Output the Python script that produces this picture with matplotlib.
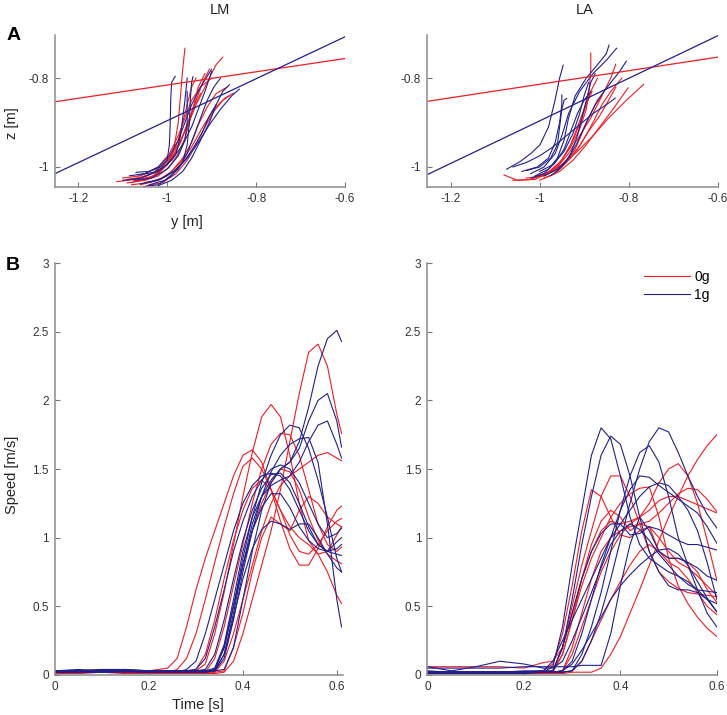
import matplotlib
matplotlib.use('Agg')
import matplotlib.pyplot as plt

plt.rcParams['font.family'] = ['Liberation Sans', 'DejaVu Sans']
plt.rcParams['axes.unicode_minus'] = False

RED = '#ee1c24'
BLUE = '#20208c'

# ---- A: hand paths, y/z in metres -------------------------------------------
# fitted lines (y at both ends, z at both ends)
fit_y = [-1.25, -0.6]
lm_fit_red_z = [-0.853, -0.756]
lm_fit_blue_z = [-1.014, -0.707]
la_fit_red_z = [-0.852, -0.753]
la_fit_blue_z = [-1.016, -0.705]

lm_red_y = [
    [-1.09, -1.05, -1.02, -1.0, -0.985, -0.975, -0.97, -0.965, -0.96],
    [-1.113, -1.07, -1.03, -1.0, -0.975, -0.955, -0.935, -0.91, -0.89, -0.875],
    [-1.08, -1.04, -1.0, -0.97, -0.945, -0.92, -0.895, -0.87, -0.851],
    [-1.07, -1.03, -1.0, -0.98, -0.965, -0.95, -0.935, -0.92, -0.905],
    [-1.1, -1.06, -1.02, -0.995, -0.975, -0.96, -0.945, -0.925, -0.9],
    [-1.06, -1.02, -0.99, -0.965, -0.945, -0.93, -0.91, -0.89, -0.865],
    [-1.05, -1.02, -0.995, -0.975, -0.96, -0.95, -0.94, -0.93, -0.915],
    [-1.08, -1.04, -1.01, -0.99, -0.97, -0.955, -0.94, -0.925],
    [-1.045, -1.01, -0.98, -0.955, -0.935, -0.915, -0.895, -0.875, -0.86],
    [-1.09, -1.05, -1.015, -0.99, -0.975, -0.965, -0.955, -0.945, -0.935],
]
lm_red_z = [
    [-1.036, -1.03, -1.015, -0.995, -0.96, -0.9, -0.84, -0.78, -0.733],
    [-1.033, -1.028, -1.012, -0.985, -0.95, -0.91, -0.86, -0.81, -0.77, -0.753],
    [-1.04, -1.035, -1.02, -0.99, -0.955, -0.91, -0.87, -0.845, -0.834],
    [-1.03, -1.02, -0.995, -0.965, -0.93, -0.89, -0.85, -0.81, -0.78],
    [-1.025, -1.02, -1.0, -0.97, -0.93, -0.89, -0.85, -0.82, -0.8],
    [-1.04, -1.03, -1.01, -0.98, -0.945, -0.905, -0.865, -0.835, -0.82],
    [-1.03, -1.02, -1.0, -0.97, -0.935, -0.9, -0.86, -0.82, -0.79],
    [-1.035, -1.025, -1.005, -0.98, -0.945, -0.905, -0.865, -0.835],
    [-1.042, -1.035, -1.015, -0.985, -0.95, -0.91, -0.875, -0.85, -0.84],
    [-1.028, -1.022, -1.005, -0.975, -0.94, -0.9, -0.86, -0.82, -0.8],
]
lm_blue_y = [
    [-1.07, -1.04, -1.015, -1.0, -0.995, -0.993, -0.992, -0.99, -0.982],
    [-1.053, -1.02, -0.99, -0.965, -0.955, -0.95, -0.948, -0.945, -0.942],
    [-1.085, -1.05, -1.02, -0.995, -0.975, -0.96, -0.945, -0.925, -0.9],
    [-1.06, -1.02, -0.985, -0.955, -0.93, -0.905, -0.88, -0.855, -0.838],
    [-1.1, -1.06, -1.02, -0.99, -0.965, -0.945, -0.93, -0.915, -0.905, -0.9],
    [-1.04, -1.005, -0.975, -0.955, -0.94, -0.925, -0.91, -0.895, -0.88],
    [-1.075, -1.035, -1.0, -0.975, -0.96, -0.955, -0.955, -0.955],
    [-1.02, -0.99, -0.965, -0.945, -0.925, -0.905, -0.89, -0.875, -0.86],
    [-1.065, -1.03, -1.0, -0.98, -0.97, -0.965, -0.96, -0.955],
    [-1.05, -1.015, -0.985, -0.96, -0.94, -0.92, -0.905, -0.89],
]
lm_blue_z = [
    [-1.012, -1.01, -1.0, -0.985, -0.95, -0.9, -0.85, -0.81, -0.796],
    [-1.044, -1.04, -1.02, -0.99, -0.95, -0.9, -0.85, -0.81, -0.797],
    [-1.02, -1.015, -1.0, -0.975, -0.94, -0.9, -0.86, -0.82, -0.78],
    [-1.038, -1.03, -1.01, -0.98, -0.945, -0.905, -0.87, -0.84, -0.825],
    [-1.03, -1.025, -1.01, -0.985, -0.95, -0.91, -0.87, -0.83, -0.8, -0.785],
    [-1.04, -1.03, -1.005, -0.97, -0.93, -0.89, -0.85, -0.82, -0.8],
    [-1.03, -1.025, -1.005, -0.975, -0.94, -0.9, -0.86, -0.83],
    [-1.042, -1.03, -1.01, -0.98, -0.94, -0.9, -0.86, -0.83, -0.815],
    [-1.018, -1.012, -0.995, -0.97, -0.93, -0.89, -0.85, -0.8],
    [-1.035, -1.028, -1.01, -0.985, -0.955, -0.92, -0.885, -0.86],
]

la_red_y = [
    [-1.06, -1.02, -0.985, -0.955, -0.93, -0.91, -0.895, -0.888, -0.885, -0.885],
    [-1.03, -0.99, -0.96, -0.935, -0.91, -0.885, -0.86, -0.84, -0.829],
    [-1.0, -0.97, -0.94, -0.915, -0.89, -0.865, -0.845, -0.829],
    [-0.99, -0.955, -0.925, -0.895, -0.865, -0.835, -0.801],
    [-0.985, -0.95, -0.915, -0.88, -0.845, -0.805, -0.766],
    [-1.01, -0.975, -0.95, -0.93, -0.915, -0.9, -0.885, -0.87],
    [-1.0, -0.965, -0.94, -0.92, -0.905, -0.89, -0.875, -0.86],
    [-1.08, -1.05, -1.01, -0.975, -0.95, -0.93, -0.91, -0.895, -0.882],
    [-0.99, -0.96, -0.93, -0.905, -0.88, -0.86, -0.84, -0.815],
]
la_red_z = [
    [-1.03, -1.028, -1.015, -0.99, -0.955, -0.915, -0.87, -0.82, -0.78, -0.744],
    [-1.025, -1.02, -1.0, -0.97, -0.93, -0.89, -0.84, -0.8, -0.769],
    [-1.02, -1.01, -0.99, -0.96, -0.92, -0.885, -0.85, -0.821],
    [-1.025, -1.01, -0.985, -0.95, -0.91, -0.87, -0.822],
    [-1.015, -0.995, -0.965, -0.93, -0.89, -0.85, -0.814],
    [-1.022, -1.01, -0.985, -0.95, -0.91, -0.87, -0.83, -0.8],
    [-1.03, -1.015, -0.99, -0.96, -0.925, -0.89, -0.86, -0.84],
    [-1.018, -1.03, -1.028, -1.01, -0.985, -0.95, -0.905, -0.86, -0.83],
    [-1.02, -1.005, -0.98, -0.945, -0.9, -0.86, -0.83, -0.8],
]
la_blue_y = [
    [-1.074, -1.044, -1.02, -0.999, -0.98, -0.966, -0.955, -0.947],
    [-1.01, -0.98, -0.96, -0.945, -0.935, -0.92, -0.895, -0.87, -0.85, -0.844],
    [-1.02, -0.99, -0.965, -0.95, -0.935, -0.91, -0.88, -0.85, -0.827],
    [-1.03, -1.0, -0.975, -0.96, -0.955, -0.95, -0.945, -0.939],
    [-1.04, -1.005, -0.98, -0.965, -0.955, -0.95, -0.95],
    [-0.99, -0.96, -0.935, -0.915, -0.895, -0.87, -0.84, -0.82, -0.805],
    [-1.0, -0.97, -0.945, -0.925, -0.91, -0.9, -0.89],
    [-1.06, -1.03, -1.0, -0.97, -0.94, -0.91, -0.88, -0.85, -0.83],
    [-1.02, -0.99, -0.965, -0.945, -0.93, -0.915, -0.9, -0.885],
    [-0.975, -0.95, -0.93, -0.915, -0.905, -0.895, -0.885, -0.875],
]
la_blue_z = [
    [-1.005, -0.988, -0.97, -0.95, -0.91, -0.853, -0.8, -0.771],
    [-1.02, -1.005, -0.98, -0.94, -0.89, -0.84, -0.8, -0.77, -0.745, -0.726],
    [-1.015, -1.0, -0.97, -0.93, -0.88, -0.83, -0.79, -0.76, -0.733],
    [-1.008, -1.0, -0.98, -0.95, -0.91, -0.87, -0.85, -0.846],
    [-1.01, -1.0, -0.98, -0.945, -0.9, -0.86, -0.838],
    [-1.02, -1.005, -0.98, -0.945, -0.9, -0.85, -0.81, -0.785, -0.762],
    [-1.01, -0.995, -0.965, -0.925, -0.88, -0.84, -0.81],
    [-1.0, -0.99, -0.975, -0.955, -0.93, -0.905, -0.88, -0.86, -0.845],
    [-1.025, -1.015, -0.99, -0.96, -0.92, -0.88, -0.85, -0.83],
    [-1.02, -1.0, -0.97, -0.93, -0.89, -0.85, -0.81, -0.79],
]

# ---- B: hand speed, m/s ------------------------------------------------------
t_lm = [0, 0.05, 0.1, 0.15, 0.2, 0.24, 0.26, 0.28, 0.3, 0.32, 0.34, 0.36, 0.38,
        0.4, 0.42, 0.44, 0.46, 0.48, 0.5, 0.52, 0.54, 0.56, 0.58, 0.6, 0.61]
lm_red_speed = [
    [0.03, 0.03, 0.04, 0.03, 0.03, 0.05, 0.12, 0.35, 0.62, 0.85, 1.05, 1.25, 1.45,
     1.6, 1.64, 1.55, 1.35, 1.12, 0.92, 0.8, 0.8, 0.92, 1.08, 1.2, 1.23],
    [0.02, 0.02, 0.02, 0.03, 0.02, 0.02, 0.04, 0.12, 0.3, 0.55, 0.82, 1.08, 1.32,
     1.52, 1.58, 1.5, 1.35, 1.2, 1.08, 1.0, 0.95, 0.88, 0.75, 0.58, 0.52],
    [0.02, 0.02, 0.02, 0.02, 0.02, 0.02, 0.02, 0.02, 0.03, 0.08, 0.3, 0.6, 0.95,
     1.3, 1.62, 1.88, 1.97, 1.88, 1.6, 1.25, 0.98, 0.88, 0.9, 1.02, 1.08],
    [0.01, 0.01, 0.02, 0.01, 0.01, 0.01, 0.01, 0.01, 0.01, 0.01, 0.01, 0.02, 0.1,
     0.3, 0.55, 0.8, 1.05, 1.35, 1.7, 2.05, 2.35, 2.41, 2.25, 1.9, 1.76],
    [0.02, 0.02, 0.02, 0.02, 0.02, 0.02, 0.02, 0.02, 0.02, 0.02, 0.12, 0.35, 0.65,
     0.95, 1.25, 1.5, 1.68, 1.76, 1.75, 1.6, 1.35, 1.1, 0.95, 0.9, 0.93],
    [0.02, 0.02, 0.02, 0.02, 0.02, 0.02, 0.02, 0.02, 0.02, 0.02, 0.02, 0.1, 0.3,
     0.55, 0.8, 1.05, 1.25, 1.38, 1.45, 1.5, 1.55, 1.6, 1.62, 1.58, 1.56],
    [0.02, 0.02, 0.02, 0.02, 0.02, 0.02, 0.02, 0.02, 0.02, 0.02, 0.04, 0.2, 0.5,
     0.8, 1.05, 1.25, 1.4, 1.5, 1.48, 1.35, 1.15, 0.98, 0.88, 0.83, 0.81],
    [0.02, 0.02, 0.02, 0.02, 0.02, 0.02, 0.02, 0.02, 0.02, 0.02, 0.02, 0.03, 0.2,
     0.45, 0.75, 1.0, 1.15, 1.1, 1.05, 1.2, 1.3, 1.25, 1.15, 1.1, 1.08],
    [0.03, 0.03, 0.03, 0.03, 0.03, 0.03, 0.03, 0.03, 0.04, 0.15, 0.4, 0.7, 0.98,
     1.2, 1.36, 1.42, 1.35, 1.2, 1.02, 0.9, 0.88, 0.95, 1.05, 1.12, 1.14],
]
lm_blue_speed = [
    [0.03, 0.04, 0.03, 0.04, 0.03, 0.03, 0.03, 0.03, 0.03, 0.03, 0.03, 0.04, 0.2,
     0.55, 0.9, 1.2, 1.4, 1.5, 1.55, 1.7, 1.95, 2.25, 2.45, 2.51, 2.43],
    [0.02, 0.03, 0.02, 0.03, 0.02, 0.02, 0.02, 0.02, 0.02, 0.02, 0.03, 0.15, 0.45,
     0.8, 1.1, 1.3, 1.42, 1.5, 1.55, 1.65, 1.85, 2.0, 2.05, 1.85, 1.66],
    [0.03, 0.03, 0.04, 0.04, 0.03, 0.03, 0.03, 0.03, 0.03, 0.03, 0.05, 0.22, 0.55,
     0.9, 1.15, 1.3, 1.38, 1.42, 1.45, 1.55, 1.7, 1.82, 1.85, 1.68, 1.58],
    [0.02, 0.02, 0.03, 0.03, 0.02, 0.02, 0.02, 0.02, 0.02, 0.02, 0.04, 0.2, 0.5,
     0.85, 1.15, 1.4, 1.6, 1.75, 1.82, 1.8, 1.65, 1.42, 1.15, 0.85, 0.75],
    [0.03, 0.03, 0.03, 0.03, 0.03, 0.03, 0.03, 0.03, 0.03, 0.03, 0.03, 0.12, 0.4,
     0.75, 1.05, 1.3, 1.48, 1.6, 1.68, 1.72, 1.73, 1.55, 1.1, 0.55, 0.35],
    [0.02, 0.02, 0.02, 0.03, 0.02, 0.02, 0.02, 0.03, 0.04, 0.12, 0.35, 0.62, 0.9,
     1.12, 1.3, 1.42, 1.5, 1.53, 1.5, 1.4, 1.25, 1.1, 1.0, 1.03, 1.07],
    [0.03, 0.03, 0.03, 0.03, 0.03, 0.03, 0.03, 0.03, 0.03, 0.04, 0.15, 0.4, 0.7,
     0.98, 1.2, 1.36, 1.46, 1.47, 1.4, 1.25, 1.08, 0.95, 0.9, 0.97, 1.0],
    [0.02, 0.02, 0.02, 0.02, 0.02, 0.02, 0.02, 0.02, 0.02, 0.02, 0.04, 0.2, 0.5,
     0.8, 1.05, 1.22, 1.32, 1.32, 1.22, 1.08, 0.98, 0.92, 0.9, 0.88, 0.87],
    [0.03, 0.03, 0.03, 0.03, 0.03, 0.03, 0.03, 0.03, 0.03, 0.03, 0.03, 0.15, 0.42,
     0.7, 0.92, 1.06, 1.12, 1.1, 1.06, 1.1, 1.1, 1.0, 0.88, 0.78, 0.75],
    [0.02, 0.02, 0.03, 0.03, 0.02, 0.02, 0.02, 0.04, 0.1, 0.3, 0.55, 0.8, 1.05,
     1.25, 1.38, 1.45, 1.47, 1.45, 1.35, 1.2, 1.05, 0.95, 0.9, 0.92, 0.95],
]

t_la = [0, 0.05, 0.1, 0.15, 0.2, 0.24, 0.26, 0.28, 0.3, 0.32, 0.34, 0.36,
        0.38, 0.4, 0.42, 0.44, 0.46, 0.48, 0.5, 0.52, 0.54, 0.56, 0.58, 0.6]
la_red_speed = [
    [0.02, 0.02, 0.02, 0.02, 0.02, 0.03, 0.08, 0.3, 0.65, 1.05, 1.35, 1.3,
     1.15, 1.02, 1.0, 1.05, 1.08, 1.0, 0.9, 0.82, 0.78, 0.72, 0.65, 0.58],
    [0.02, 0.02, 0.02, 0.02, 0.02, 0.02, 0.03, 0.2, 0.5, 0.8, 1.05, 1.3,
     1.45, 1.45, 1.3, 1.1, 0.9, 0.75, 0.68, 0.63, 0.6, 0.59, 0.58, 0.57],
    [0.01, 0.01, 0.01, 0.01, 0.01, 0.02, 0.02, 0.03, 0.15, 0.35, 0.55, 0.75,
     0.9, 1.02, 1.1, 1.15, 1.25, 1.4, 1.5, 1.54, 1.45, 1.25, 0.98, 0.69],
    [0.01, 0.01, 0.01, 0.01, 0.01, 0.01, 0.01, 0.01, 0.02, 0.02, 0.02, 0.05,
     0.15, 0.28, 0.45, 0.62, 0.8, 0.98, 1.15, 1.3, 1.45, 1.57, 1.67, 1.75],
    [0.02, 0.02, 0.02, 0.02, 0.02, 0.02, 0.02, 0.03, 0.2, 0.45, 0.7, 0.9,
     1.0, 1.05, 1.08, 1.1, 1.12, 1.18, 1.25, 1.32, 1.36, 1.35, 1.28, 1.19],
    [0.02, 0.02, 0.02, 0.02, 0.02, 0.02, 0.03, 0.15, 0.4, 0.65, 0.85, 1.0,
     1.15, 1.25, 1.32, 1.36, 1.37, 1.15, 0.85, 0.65, 0.52, 0.42, 0.34, 0.28],
    [0.02, 0.02, 0.02, 0.02, 0.02, 0.02, 0.02, 0.15, 0.4, 0.7, 0.95, 1.12,
     1.2, 1.15, 1.05, 1.1, 1.08, 0.9, 0.82, 0.78, 0.7, 0.6, 0.5, 0.44],
    [0.02, 0.02, 0.02, 0.02, 0.02, 0.02, 0.02, 0.02, 0.03, 0.1, 0.25, 0.4,
     0.55, 0.68, 0.8, 0.9, 0.95, 0.9, 0.85, 0.85, 0.82, 0.75, 0.62, 0.53],
    [0.06, 0.06, 0.06, 0.06, 0.05, 0.09, 0.1, 0.2, 0.45, 0.7, 0.9, 1.05,
     1.12, 1.1, 1.12, 1.15, 1.2, 1.27, 1.3, 1.3, 1.27, 1.24, 1.21, 1.18],
]
la_blue_speed = [
    [0.02, 0.02, 0.02, 0.02, 0.02, 0.02, 0.06, 0.35, 0.8, 1.2, 1.6, 1.8,
     1.72, 1.45, 1.15, 0.95, 0.85, 0.8, 0.75, 0.72, 0.68, 0.62, 0.55, 0.46],
    [0.03, 0.02, 0.02, 0.02, 0.03, 0.03, 0.03, 0.2, 0.55, 0.95, 1.3, 1.6,
     1.74, 1.68, 1.45, 1.15, 0.9, 0.75, 0.65, 0.62, 0.62, 0.6, 0.55, 0.52],
    [0.01, 0.01, 0.01, 0.01, 0.01, 0.02, 0.02, 0.02, 0.03, 0.1, 0.25, 0.45,
     0.7, 0.98, 1.25, 1.5, 1.7, 1.8, 1.77, 1.62, 1.45, 1.3, 1.17, 1.07],
    [0.02, 0.02, 0.02, 0.02, 0.02, 0.02, 0.02, 0.02, 0.03, 0.15, 0.35, 0.6,
     0.9, 1.2, 1.45, 1.62, 1.67, 1.55, 1.3, 1.0, 0.8, 0.62, 0.45, 0.35],
    [0.02, 0.02, 0.02, 0.02, 0.02, 0.02, 0.02, 0.03, 0.1, 0.3, 0.55, 0.8,
     1.0, 1.2, 1.35, 1.45, 1.44, 1.38, 1.33, 1.28, 1.23, 1.18, 1.08, 0.96],
    [0.02, 0.02, 0.02, 0.02, 0.02, 0.02, 0.03, 0.2, 0.45, 0.7, 0.9, 1.03,
     1.1, 1.1, 1.02, 1.03, 1.08, 1.06, 1.02, 0.98, 0.95, 0.95, 0.93, 0.91],
    [0.05, 0.05, 0.05, 0.05, 0.06, 0.06, 0.06, 0.06, 0.06, 0.07, 0.07, 0.07,
     0.3, 0.65, 0.95, 1.15, 1.05, 0.9, 0.85, 0.85, 0.82, 0.78, 0.72, 0.69],
    [0.02, 0.02, 0.02, 0.02, 0.02, 0.02, 0.02, 0.03, 0.08, 0.18, 0.3, 0.42,
     0.55, 0.65, 0.73, 0.8, 0.86, 0.91, 0.92, 0.88, 0.8, 0.68, 0.56, 0.46],
    [0.02, 0.02, 0.02, 0.02, 0.02, 0.03, 0.1, 0.25, 0.4, 0.55, 0.7, 0.85,
     1.0, 1.1, 1.2, 1.3, 1.37, 1.4, 1.38, 1.3, 1.2, 1.05, 0.82, 0.55],
    [0.06, 0.03, 0.06, 0.1, 0.08, 0.05, 0.05, 0.1, 0.25, 0.42, 0.6, 0.78,
     0.95, 1.05, 1.1, 1.06, 0.98, 0.88, 0.8, 0.72, 0.66, 0.62, 0.61, 0.6],
]


def style_axes(ax):
    for side in ['top', 'right']:
        ax.spines[side].set_visible(False)
    for side in ['left', 'bottom']:
        ax.spines[side].set_color('#8c8c8c')
        ax.spines[side].set_linewidth(1.1)
    ax.tick_params(direction='in', length=3.5, width=0.8, color='#777777',
                   labelcolor='#333333', labelsize=8.5, pad=4.5)


def path_panel(ax, red_y, red_z, blue_y, blue_z, fit_red, fit_blue):
    for y, z in zip(red_y, red_z):
        ax.plot(y, z, color=RED, lw=0.8, solid_joinstyle='round')
    for y, z in zip(blue_y, blue_z):
        ax.plot(y, z, color=BLUE, lw=0.8, solid_joinstyle='round')
    ax.plot(fit_y, fit_red, color=RED, lw=0.9)
    ax.plot(fit_y, fit_blue, color=BLUE, lw=0.9)
    ax.set_xlim(-1.252, -0.6)
    ax.set_ylim(-1.045, -0.703)
    ax.set_xticks([-1.2, -1, -0.8, -0.6])
    ax.set_xticklabels(['-1.2', '-1', '-0.8', '-0.6'])
    ax.set_yticks([-1, -0.8])
    ax.set_yticklabels(['-1', '-0.8'])
    style_axes(ax)


def speed_panel(ax, t, red, blue, tmax):
    for i, v in enumerate(red):
        ax.plot(t, v, color=RED, lw=0.8, solid_joinstyle='round',
                label='0g' if i == 0 else None)
    for i, v in enumerate(blue):
        ax.plot(t, v, color=BLUE, lw=0.8, solid_joinstyle='round',
                label='1g' if i == 0 else None)
    ax.set_xlim(0, tmax)
    ax.set_ylim(0, 3)
    ax.set_xticks([0, 0.2, 0.4, 0.6])
    ax.set_xticklabels(['0', '0.2', '0.4', '0.6'])
    ax.set_yticks([0, 0.5, 1, 1.5, 2, 2.5, 3])
    ax.set_yticklabels(['0', '0.5', '1', '1.5', '2', '2.5', '3'])
    style_axes(ax)


fig = plt.figure(figsize=(7.27, 7.15), dpi=100)

ax1 = fig.add_axes([0.0757, 0.7385, 0.399, 0.2126])
path_panel(ax1, lm_red_y, lm_red_z, lm_blue_y, lm_blue_z, lm_fit_red_z, lm_fit_blue_z)
ax2 = fig.add_axes([0.588, 0.7385, 0.399, 0.2126])
path_panel(ax2, la_red_y, la_red_z, la_blue_y, la_blue_z, la_fit_red_z, la_fit_blue_z)

ax3 = fig.add_axes([0.0757, 0.056, 0.396, 0.576])
speed_panel(ax3, t_lm, lm_red_speed, lm_blue_speed, 0.613)
ax4 = fig.add_axes([0.588, 0.056, 0.398, 0.576])
speed_panel(ax4, t_la, la_red_speed, la_blue_speed, 0.6)
ax4.legend(loc='upper right', bbox_to_anchor=(1.0, 1.0), frameon=False,
           fontsize=10, handlelength=3.3, handletextpad=0.3, labelspacing=0.25,
           borderaxespad=0.1)

fig.text(0.3026, 0.986, 'LM', ha='center', va='center', fontsize=10.5, color='#222222')
fig.text(0.8047, 0.986, 'LA', ha='center', va='center', fontsize=10.5, color='#222222')
fig.text(0.018, 0.951, 'A', ha='center', va='center', fontsize=14, fontweight='bold')
fig.text(0.018, 0.629, 'B', ha='center', va='center', fontsize=14, fontweight='bold')
fig.text(0.257, 0.690, 'y [m]', ha='center', va='center', fontsize=10.5, color='#222222')
fig.text(0.0165, 0.828, 'z [m]', ha='center', va='center', rotation=90, fontsize=10.5,
         color='#222222')
fig.text(0.0165, 0.336, 'Speed [m/s]', ha='center', va='center', rotation=90,
         fontsize=10.5, color='#222222')
fig.text(0.272, 0.014, 'Time [s]', ha='center', va='center', fontsize=10.5, color='#222222')

fig.savefig('out.png', dpi=100)
